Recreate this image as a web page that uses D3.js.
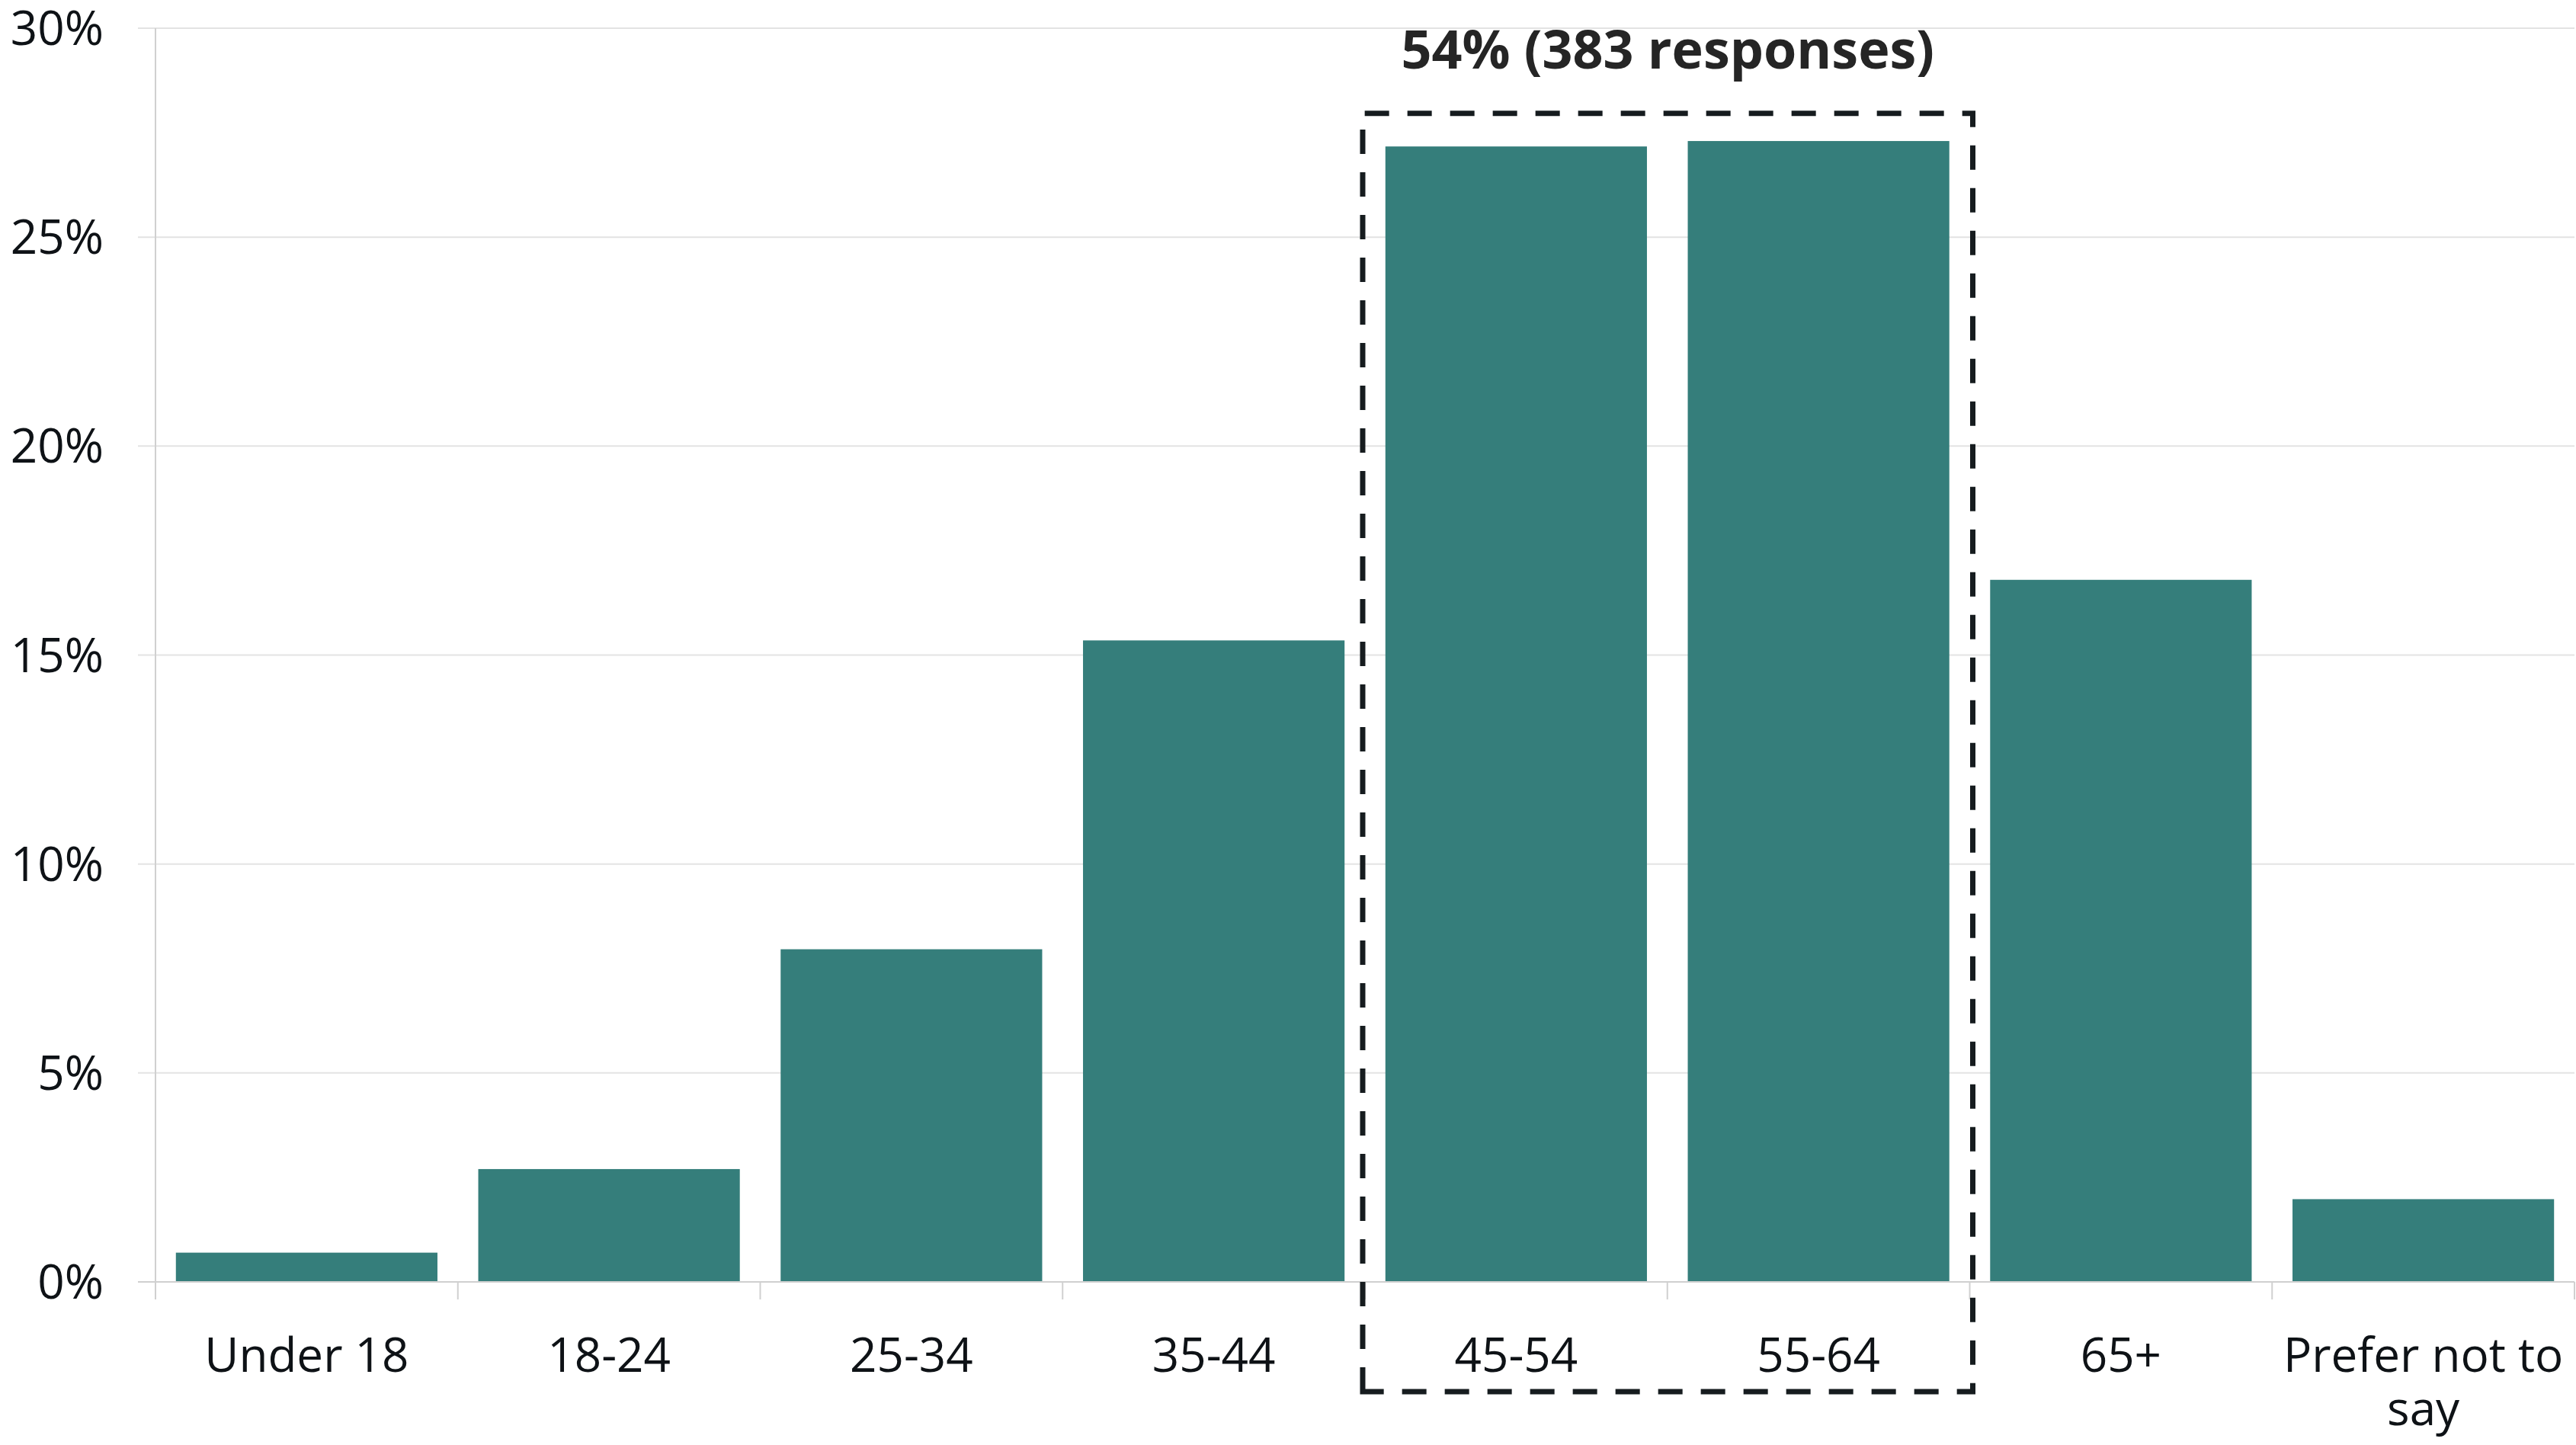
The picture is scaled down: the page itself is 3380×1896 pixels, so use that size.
<!DOCTYPE html>
<html>
<head>
<meta charset="utf-8">
<script src="https://cdn.jsdelivr.net/npm/d3@7"></script>
<style>
  html, body { margin: 0; padding: 0; background: #ffffff; }
  svg { display: block; }
</style>
</head>
<body>
<svg id="chart" width="3380" height="1896"></svg>
<script>
const categories = ["Under 18", "18-24", "25-34", "35-44", "45-54", "55-64", "65+", "Prefer not to say"];
const values = [0.7, 2.7, 7.96, 15.35, 27.17, 27.3, 16.8, 1.98];
const yTicks = [0, 5, 10, 15, 20, 25, 30];
const highlighted = ["45-54", "55-64"];
const annotationText = "54% (383 responses)";
const boxTopValue = 28;

(function () {
const plotLeft = 204, plotRight = 3378, plotTop = 37, plotBase = 1682;
const font = "'Open Sans', 'Noto Sans', sans-serif";

const svg = d3.select("#chart");

const x = d3.scaleBand().domain(categories).range([plotLeft, plotRight])
  .paddingInner(0.135).paddingOuter(0.0675);
const y = d3.scaleLinear().domain([0, 30]).range([plotBase, plotTop]);

// gridlines
svg.append("g").selectAll("line").data(yTicks.filter(t => t > 0)).join("line")
  .attr("x1", plotLeft - 23).attr("x2", plotRight)
  .attr("y1", d => y(d)).attr("y2", d => y(d))
  .attr("stroke", "#e3e3e3").attr("stroke-width", 2);

// y tick labels
svg.append("g").selectAll("text").data(yTicks).join("text")
  .attr("x", 136).attr("y", d => y(d) + 22)
  .attr("text-anchor", "end")
  .attr("font-family", font).attr("font-size", 62).attr("fill", "#0e1216")
  .text(d => d + "%");

// bars
svg.append("g").selectAll("rect").data(categories).join("rect")
  .attr("x", d => x(d))
  .attr("y", (d, i) => y(values[i]))
  .attr("width", x.bandwidth())
  .attr("height", (d, i) => y(0) - y(values[i]))
  .attr("fill", "#357e7b");

// axes lines
svg.append("line").attr("x1", plotLeft - 23).attr("x2", plotRight).attr("y1", plotBase).attr("y2", plotBase)
  .attr("stroke", "#d0d0d0").attr("stroke-width", 2);
svg.append("line").attr("x1", plotLeft).attr("x2", plotLeft).attr("y1", plotTop).attr("y2", plotBase + 23)
  .attr("stroke", "#d0d0d0").attr("stroke-width", 2);
const bounds = d3.range(categories.length + 1).map(i => x.range()[0] + i * x.step());
svg.append("g").selectAll("line").data(bounds).join("line")
  .attr("x1", d => d).attr("x2", d => d).attr("y1", plotBase).attr("y2", plotBase + 23)
  .attr("stroke", "#d0d0d0").attr("stroke-width", 2);

// x labels with wrapping
const maxW = x.step() - 4;
const xl = svg.append("g").selectAll("text").data(categories).join("text")
  .attr("x", d => x(d) + x.bandwidth() / 2)
  .attr("y", 1800)
  .attr("text-anchor", "middle")
  .attr("font-family", font).attr("font-size", 62).attr("fill", "#0e1216");
xl.each(function (d) {
  const t = d3.select(this);
  const words = d.split(" ");
  let line = [];
  let tspan = t.append("tspan").attr("x", x(d) + x.bandwidth() / 2).attr("dy", 0);
  words.forEach(w => {
    line.push(w);
    tspan.text(line.join(" "));
    if (tspan.node().getComputedTextLength() > maxW && line.length > 1) {
      line.pop();
      tspan.text(line.join(" "));
      line = [w];
      tspan = t.append("tspan").attr("x", x(d) + x.bandwidth() / 2).attr("dy", 70).text(w);
    }
  });
});

// highlight box
const pad = x.step() * x.paddingInner() / 2;
const bx0 = x(highlighted[0]) - pad - 3;
const bx1 = x(highlighted[highlighted.length - 1]) + x.bandwidth() + pad + 4;
const by0 = y(boxTopValue) + 2;
const by1 = plotBase + 144;
svg.append("path")
  .attr("d", `M${bx0},${by1} L${bx0},${by0} L${bx1},${by0} L${bx1},${by1} Z`)
  .attr("fill", "none").attr("stroke", "#161c1f").attr("stroke-width", 7)
  .attr("stroke-dasharray", "32 24");

svg.append("text")
  .attr("x", (bx0 + bx1) / 2).attr("y", 90)
  .attr("text-anchor", "middle")
  .attr("font-family", font).attr("font-weight", "bold").attr("font-size", 70)
  .attr("fill", "#252525")
  .text(annotationText);
})();
</script>
</body>
</html>
